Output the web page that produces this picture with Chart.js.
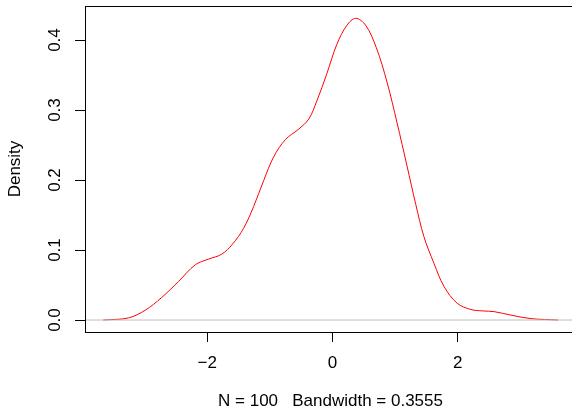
<!DOCTYPE html>
<html>
<head>
<meta charset="utf-8">
<script src="https://cdn.jsdelivr.net/npm/chart.js@4"></script>
<style>
  html, body { margin: 0; padding: 0; background: #fff; overflow: hidden; }
  #wrap { width: 576px; height: 412px; }
</style>
</head>
<body>
<div id="wrap"><canvas id="myChart" width="576" height="412"></canvas></div>
<script>
// density estimate
const xs = [-3.66, -3.26, -2.99, -2.73, -2.46, -2.19, -1.98, -1.77, -1.60, -1.42, -1.26, -1.10,
  -0.94, -0.75, -0.55, -0.38, -0.25, -0.09, 0.07, 0.23, 0.37, 0.53, 0.70, 0.87,
  1.03, 1.19, 1.33, 1.46, 1.62, 1.78, 1.99, 2.21, 2.40, 2.58, 2.85, 3.17, 3.60];
const ys = [0.000, 0.003, 0.014, 0.032, 0.055, 0.079, 0.087, 0.094, 0.108, 0.131, 0.162, 0.199,
  0.233, 0.258, 0.272, 0.287, 0.313, 0.352, 0.394, 0.421, 0.431, 0.421, 0.389, 0.340,
  0.282, 0.220, 0.165, 0.119, 0.081, 0.048, 0.024, 0.015, 0.013, 0.012, 0.007, 0.002, 0.000];
const xTicks = [-2, 0, 2];
const yTicks = [0, 0.1, 0.2, 0.3, 0.4];
const xRange = [-3.952, 3.888];
const yRange = [-0.0171, 0.4486];

const font = { family: 'Liberation Sans, Arial, sans-serif', size: 17 };

const boxPlugin = {
  id: 'box',
  afterDraw(chart) {
    const { ctx, chartArea: a } = chart;
    ctx.save();
    ctx.strokeStyle = '#000';
    ctx.lineWidth = 1;
    ctx.strokeRect(a.left + 0.5, a.top + 0.5, a.right - a.left, a.bottom - a.top);
    ctx.restore();
  }
};

const ctx = document.getElementById('myChart');

new Chart(ctx, {
  type: 'line',
  data: {
    datasets: [{
      data: xRange.map(v => ({ x: v, y: 0 })),
      borderColor: '#bebebe',
      borderWidth: 1,
      pointRadius: 0
    }, {
      data: xs.map((v, i) => ({ x: v, y: ys[i] })),
      borderColor: '#ff0000',
      borderWidth: 1,
      pointRadius: 0,
      tension: 0.35
    }]
  },
  plugins: [boxPlugin],
  options: {
    responsive: false,
    animation: false,
    layout: { padding: { top: 6, left: 0, right: 0, bottom: 0 } },
    plugins: { legend: { display: false }, tooltip: { enabled: false } },
    scales: {
      x: {
        type: 'linear',
        min: xRange[0],
        max: xRange[1],
        afterBuildTicks: s => { s.ticks = xTicks.map(v => ({ value: v })); },
        afterFit: s => { s.height = 80; s.paddingLeft = 0; s.paddingRight = 0; },
        grid: { drawOnChartArea: false, drawTicks: true, tickLength: 10, tickColor: '#000' },
        border: { display: true, color: '#000' },
        ticks: {
          color: '#000', font: font, padding: 11, maxRotation: 0,
          callback: v => String(v).replace('-', '\u2212')
        },
        title: { display: true, text: 'N = 100   Bandwidth = 0.3555', color: '#000', font: font,
          padding: { top: 0, bottom: 0 } }
      },
      y: {
        min: yRange[0],
        max: yRange[1],
        afterBuildTicks: s => { s.ticks = yTicks.map(v => ({ value: v })); },
        afterFit: s => { s.width = 85; s.paddingTop = 0; s.paddingBottom = 0; },
        grid: { drawOnChartArea: false, drawTicks: true, tickLength: 10, tickColor: '#000' },
        border: { display: true, color: '#000' },
        ticks: {
          color: '#000', font: font, padding: 8, minRotation: 90, maxRotation: 90,
          crossAlign: 'center',
          callback: v => v.toFixed(1)
        },
        title: { display: true, text: 'Density', color: '#000', font: font,
          padding: { top: 5, bottom: 0 } }
      }
    }
  }
});
</script>
</body>
</html>
